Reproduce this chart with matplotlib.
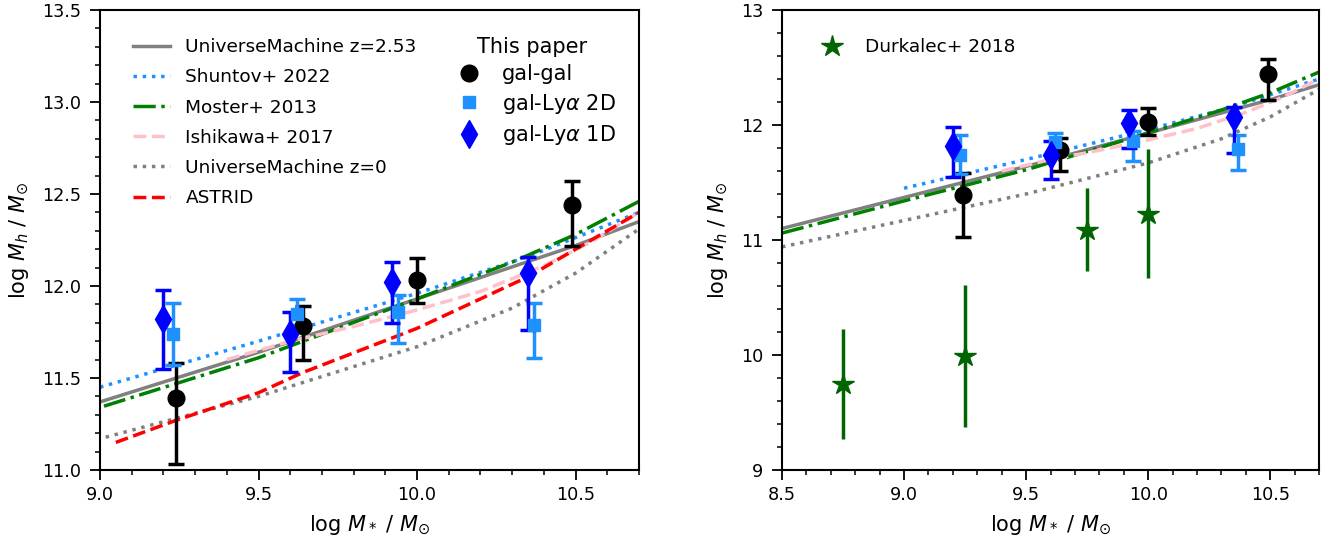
import matplotlib
matplotlib.use("Agg")
import matplotlib.pyplot as plt
from matplotlib.lines import Line2D
from matplotlib.ticker import MultipleLocator
import numpy as np

# ---------------- data ----------------
# This paper
gg_x = [9.24, 9.64, 10.00, 10.49]
gg_y = [11.39, 11.78, 12.03, 12.44]
gg_lo = [0.36, 0.18, 0.12, 0.22]
gg_hi = [0.19, 0.11, 0.12, 0.13]

l2_x = [9.23, 9.62, 9.94, 10.37]
l2_y = [11.74, 11.85, 11.86, 11.79]
l2_lo = [0.17, 0.06, 0.17, 0.18]
l2_hi = [0.17, 0.08, 0.09, 0.12]

l1_x = [9.20, 9.60, 9.92, 10.35]
l1_y = [11.82, 11.74, 12.02, 12.07]
l1_lo = [0.27, 0.21, 0.22, 0.31]
l1_hi = [0.16, 0.12, 0.11, 0.09]

# Durkalec+ 2018
dk_x = [8.75, 9.25, 9.75, 10.00]
dk_y = [9.75, 9.99, 11.09, 11.23]
dk_err = [0.48, 0.62, 0.36, 0.56]

# model relations
um253_x = [8.5, 9.0, 9.5, 10.0, 10.5, 10.7]
um253_y = [11.10, 11.37, 11.64, 11.93, 12.22, 12.35]

shun_x = [9.0, 9.5, 10.0, 10.35, 10.7]
shun_y = [11.45, 11.70, 11.96, 12.16, 12.40]

mos_x = [8.5, 9.0, 9.5, 10.0, 10.3, 10.5, 10.7]
mos_y = [11.06, 11.34, 11.61, 11.93, 12.13, 12.28, 12.46]

ish_x = [9.4, 9.6, 9.8, 10.0, 10.2, 10.4, 10.55, 10.7]
ish_y = [11.60, 11.70, 11.78, 11.87, 11.97, 12.11, 12.24, 12.40]

um0_x = [8.5, 9.0, 9.5, 10.0, 10.3, 10.5, 10.7]
um0_y = [10.94, 11.17, 11.40, 11.67, 11.88, 12.07, 12.31]

ast_x = [9.05, 9.24, 9.5, 9.64, 10.0, 10.35, 10.5, 10.7]
ast_y = [11.15, 11.27, 11.42, 11.53, 11.77, 12.05, 12.20, 12.40]

FS_TICK = 12.7
FS_LEG = 13.3
FS_BIG = 15
plt.rcParams['font.family'] = ['DejaVu Sans']
plt.rcParams['font.size'] = FS_TICK

fig = plt.figure(figsize=(13.33, 5.44), dpi=100)
axL = fig.add_axes([100/1333, 74/544, 539/1333, 460/544])
axR = fig.add_axes([782/1333, 74/544, 537/1333, 460/544])

LW = 2.5

def draw_models(ax, astrid=True):
    h = []
    h += ax.plot(um253_x, um253_y, color='gray', ls='-', lw=LW, label='UniverseMachine z=2.53')
    h += ax.plot(shun_x, shun_y, color='dodgerblue', ls=':', lw=LW, label='Shuntov+ 2022')
    h += ax.plot(mos_x, mos_y, color='green', ls='-.', lw=LW, label='Moster+ 2013')
    h += ax.plot(ish_x, ish_y, color='pink', ls='--', lw=LW, label='Ishikawa+ 2017')
    h += ax.plot(um0_x, um0_y, color='gray', ls=':', lw=LW, label='UniverseMachine z=0')
    if astrid:
        h += ax.plot(ast_x, ast_y, color='red', ls='--', lw=LW, label='ASTRID')
    return h

def draw_points(ax):
    ekw = dict(ls='none', elinewidth=2.5, capsize=6, capthick=2.5)
    ax.errorbar(gg_x, gg_y, yerr=[gg_lo, gg_hi], fmt='o', color='black', ms=12, **ekw)
    ax.errorbar(l2_x, l2_y, yerr=[l2_lo, l2_hi], fmt='s', color='dodgerblue', ms=9, **ekw)
    ax.errorbar(l1_x, l1_y, yerr=[l1_lo, l1_hi], fmt='d', color='blue', ms=14, **ekw)

hL = draw_models(axL, astrid=True)
draw_points(axL)
draw_models(axR, astrid=False)
draw_points(axR)
axR.errorbar(dk_x, dk_y, yerr=dk_err, fmt='*', color='darkgreen', ms=16, elinewidth=2.5, ls='none')

leg1 = axL.legend(handles=hL, loc='upper left', bbox_to_anchor=(0.03, 0.975), frameon=False,
                  fontsize=FS_LEG, handlelength=2.0, handletextpad=0.85, labelspacing=0.66)
axL.add_artist(leg1)
pts = [Line2D([], [], marker='o', color='black', ls='none', ms=12),
       Line2D([], [], marker='s', color='dodgerblue', ls='none', ms=9),
       Line2D([], [], marker='d', color='blue', ls='none', ms=14)]
axL.legend(handles=pts, labels=['gal-gal', r'gal-Ly$\alpha$ 2D', r'gal-Ly$\alpha$ 1D'],
           title='This paper', title_fontsize=FS_BIG, fontsize=FS_BIG, frameon=False,
           loc='upper left', bbox_to_anchor=(0.612, 0.982), labelspacing=0.35,
           handletextpad=0.55)

dk_h = Line2D([], [], marker='*', color='darkgreen', ls='none', ms=16)
axR.legend(handles=[dk_h], labels=['Durkalec+ 2018'], loc='upper left',
           bbox_to_anchor=(0.027, 0.975), frameon=False, fontsize=FS_LEG, handlelength=2.0)

axL.set_xlim(9.0, 10.7)
axL.set_ylim(11.0, 13.5)
axL.xaxis.set_major_locator(MultipleLocator(0.5))
axL.xaxis.set_minor_locator(MultipleLocator(0.1))
axL.yaxis.set_major_locator(MultipleLocator(0.5))
axL.yaxis.set_minor_locator(MultipleLocator(0.1))

axR.set_xlim(8.5, 10.7)
axR.set_ylim(9, 13)
axR.xaxis.set_major_locator(MultipleLocator(0.5))
axR.xaxis.set_minor_locator(MultipleLocator(0.1))
axR.yaxis.set_major_locator(MultipleLocator(1))
axR.yaxis.set_minor_locator(MultipleLocator(0.2))

for ax in (axL, axR):
    ax.set_xlabel(r'log $M_*$ / $M_{\odot}$', fontsize=FS_BIG, labelpad=7)
    ax.set_ylabel(r'log $M_h$ / $M_{\odot}$', fontsize=FS_BIG, labelpad=8)
    ax.tick_params(which='both', direction='out', top=False, right=False, labelsize=FS_TICK)
    ax.tick_params(axis='x', which='both', pad=4.5)
    ax.tick_params(axis='y', which='both', pad=6.5)
    ax.tick_params(which='major', length=7, width=1.3)
    ax.tick_params(which='minor', length=3.6, width=1.1)
    for s in ax.spines.values():
        s.set_linewidth(1.5)

fig.savefig('out.png', dpi=100)
